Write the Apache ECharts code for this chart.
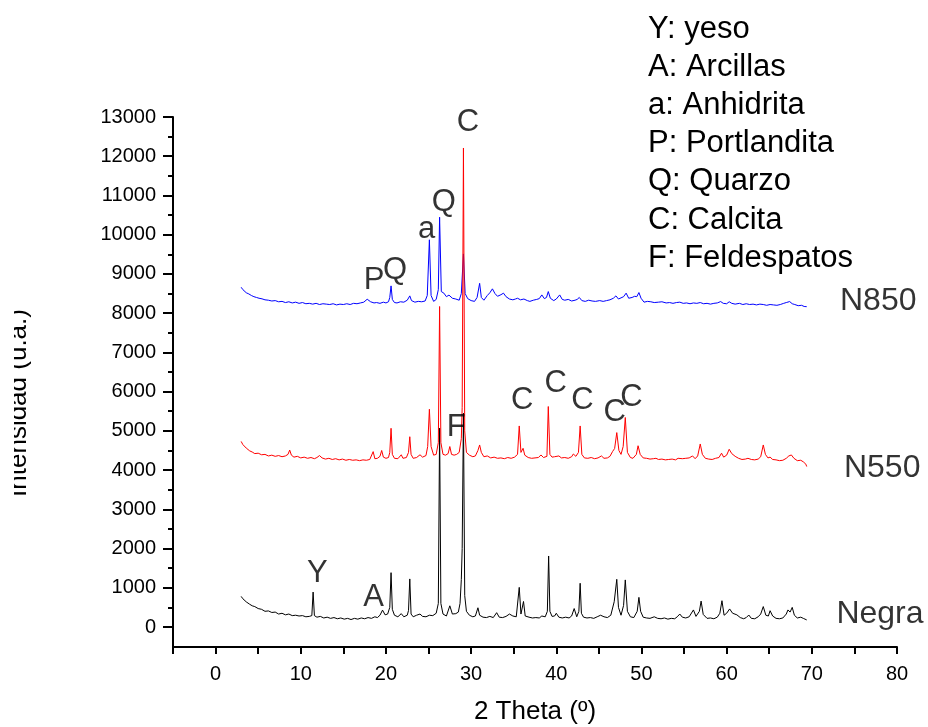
<!DOCTYPE html>
<html>
<head>
<meta charset="utf-8">
<script src="https://cdn.jsdelivr.net/npm/echarts@6/dist/echarts.min.js"></script>
<style>
html,body{margin:0;padding:0;background:#fff;}
#chart{width:928px;height:727px;}
</style>
</head>
<body>
<div id="chart"></div>
<script>
// ---- tick definitions ----
const xTickValues = [-5,0,5,10,15,20,25,30,35,40,45,50,55,60,65,70,75,80];
const xLabelValues = [0,10,20,30,40,50,60,70,80];
const yMajorTicks = [0,1000,2000,3000,4000,5000,6000,7000,8000,9000,10000,11000,12000,13000];
const yMinorTicks = [500,1500,2500,3500,4500,5500,6500,7500,8500,9500,10500,11500,12500];

// ---- series data: [2theta, intensity] ----
const negraData = [
[3.0,780],[3.2,720],[3.4,690],[3.6,640],[3.8,610],[4.0,580],[4.3,540],[4.6,520],[5.0,470],[5.4,450],[5.8,400],[6.2,410],[6.6,370],[7.0,380],[7.4,330],[7.8,350],[8.2,310],[8.6,330],[9.0,290],[9.4,300],[9.8,280],[10.2,290],[10.6,260],[11.0,270],[11.3,290],[11.45,890],[11.6,290],[11.9,250],[12.3,270],[12.7,230],[13.1,250],[13.5,220],[13.9,240],[14.3,210],[14.7,230],[15.1,200],[15.5,220],[15.9,190],[16.3,220],[16.7,200],[17.1,230],[17.5,210],[17.9,240],[18.3,220],[18.7,260],[19.0,240],[19.3,300],[19.6,430],[19.9,310],[20.2,330],[20.45,500],[20.6,1385],[20.75,450],[21.0,300],[21.4,260],[21.8,340],[22.1,260],[22.5,300],[22.65,420],[22.8,1225],[22.95,330],[23.2,260],[23.6,300],[24.0,330],[24.3,270],[24.7,260],[25.1,300],[25.5,290],[25.9,350],[26.15,600],[26.3,5070],[26.45,600],[26.7,330],[27.1,280],[27.5,540],[27.8,330],[28.2,340],[28.5,380],[28.7,600],[28.85,1210],[28.95,2000],[29.1,5450],[29.25,800],[29.45,400],[29.8,300],[30.2,260],[30.5,280],[30.8,490],[31.0,300],[31.4,250],[31.8,240],[32.2,270],[32.6,240],[33.0,365],[33.3,250],[33.7,240],[34.1,270],[34.5,330],[34.9,280],[35.3,260],[35.5,300],[35.65,1010],[35.85,330],[36.15,650],[36.35,280],[36.8,250],[37.2,230],[37.6,240],[38.0,230],[38.3,280],[38.7,260],[38.95,400],[39.1,1810],[39.25,400],[39.5,270],[39.8,280],[40.0,350],[40.3,250],[40.7,230],[41.1,250],[41.5,230],[41.8,280],[42.1,470],[42.4,260],[42.65,400],[42.8,1115],[42.95,350],[43.2,250],[43.6,230],[44.0,240],[44.4,220],[44.8,260],[45.2,300],[45.4,350],[45.6,260],[46.0,240],[46.4,300],[46.8,645],[47.1,1215],[47.3,500],[47.6,300],[47.9,550],[48.1,1200],[48.35,400],[48.7,260],[49.1,240],[49.5,400],[49.7,755],[49.9,400],[50.2,250],[50.6,230],[51.0,220],[51.5,260],[51.9,220],[52.3,210],[52.7,230],[53.1,200],[53.5,220],[53.9,210],[54.2,260],[54.5,330],[54.8,250],[55.2,230],[55.6,260],[56.1,435],[56.4,270],[56.8,400],[57.0,660],[57.25,320],[57.7,220],[58.1,230],[58.5,210],[58.9,250],[59.2,350],[59.45,670],[59.7,300],[60.0,350],[60.35,460],[60.7,350],[61.2,310],[61.6,240],[62.0,210],[62.3,240],[62.6,305],[62.9,220],[63.3,210],[63.7,260],[64.0,330],[64.3,520],[64.6,300],[64.9,280],[65.1,415],[65.4,280],[65.8,220],[66.2,210],[66.6,230],[67.0,330],[67.2,435],[67.45,380],[67.7,500],[67.95,300],[68.3,230],[68.7,250],[69.0,220],[69.4,180]
];
const n850Data = [
[3.0,8660],[3.2,8600],[3.4,8560],[3.6,8520],[3.9,8490],[4.2,8450],[4.5,8420],[4.8,8400],[5.1,8380],[5.45,8365],[5.8,8340],[6.2,8330],[6.6,8310],[7.0,8320],[7.4,8290],[7.8,8300],[8.2,8270],[8.6,8290],[9.0,8260],[9.4,8280],[9.8,8250],[10.2,8270],[10.6,8240],[11.0,8250],[11.4,8230],[11.8,8250],[12.2,8220],[12.6,8240],[13.0,8230],[13.4,8220],[13.8,8240],[14.2,8210],[14.6,8230],[15.0,8220],[15.4,8240],[15.8,8220],[16.2,8250],[16.6,8240],[17.0,8260],[17.4,8280],[17.8,8355],[18.2,8290],[18.6,8260],[18.9,8270],[19.3,8250],[19.7,8280],[20.0,8260],[20.3,8290],[20.45,8400],[20.6,8695],[20.75,8350],[21.0,8270],[21.3,8260],[21.7,8290],[22.1,8280],[22.5,8330],[22.8,8440],[23.0,8320],[23.4,8280],[23.8,8300],[24.2,8290],[24.6,8310],[24.85,8450],[25.1,9870],[25.3,8450],[25.6,8300],[25.9,8350],[26.15,8600],[26.3,10445],[26.5,8550],[26.8,8510],[27.1,8420],[27.4,8460],[27.8,8380],[28.2,8360],[28.6,8330],[28.85,8500],[29.1,9510],[29.3,8500],[29.6,8370],[30.0,8320],[30.4,8300],[30.7,8400],[31.0,8760],[31.2,8400],[31.5,8330],[31.9,8450],[32.2,8520],[32.5,8620],[32.8,8500],[33.1,8430],[33.5,8470],[33.8,8510],[34.1,8420],[34.5,8360],[34.9,8340],[35.2,8360],[35.45,8380],[35.8,8340],[36.2,8360],[36.6,8320],[36.9,8300],[37.3,8330],[37.7,8350],[38.0,8370],[38.3,8465],[38.6,8370],[38.85,8400],[39.06,8550],[39.3,8380],[39.7,8320],[40.0,8360],[40.4,8465],[40.7,8350],[41.0,8330],[41.4,8350],[41.8,8310],[42.2,8330],[42.45,8350],[42.7,8400],[43.0,8320],[43.4,8300],[43.8,8330],[44.2,8310],[44.6,8300],[45.1,8320],[45.5,8300],[45.9,8320],[46.3,8340],[46.7,8380],[47.0,8440],[47.3,8360],[47.6,8390],[47.9,8420],[48.2,8510],[48.5,8380],[48.9,8400],[49.2,8430],[49.45,8420],[49.7,8525],[49.95,8380],[50.3,8280],[50.7,8300],[51.1,8290],[51.5,8270],[51.7,8310],[52.0,8280],[52.4,8290],[52.9,8260],[53.3,8270],[53.7,8250],[54.1,8270],[54.5,8280],[54.9,8250],[55.3,8260],[55.7,8240],[56.1,8260],[56.5,8250],[56.9,8270],[57.3,8240],[57.7,8250],[58.1,8230],[58.5,8250],[58.9,8260],[59.3,8295],[59.6,8250],[60.0,8240],[60.3,8290],[60.6,8250],[61.0,8230],[61.5,8250],[61.9,8220],[62.3,8240],[62.7,8220],[63.1,8230],[63.5,8210],[63.9,8230],[64.3,8220],[64.7,8200],[65.1,8220],[65.5,8210],[65.9,8200],[66.3,8220],[66.7,8250],[67.0,8270],[67.4,8295],[67.7,8240],[68.0,8220],[68.4,8190],[68.8,8200],[69.1,8170],[69.4,8165]
];
const n550Data = [
[3.0,4730],[3.2,4650],[3.4,4600],[3.6,4560],[3.8,4520],[4.0,4490],[4.3,4460],[4.6,4420],[5.0,4430],[5.4,4390],[5.8,4400],[6.2,4360],[6.6,4380],[7.0,4350],[7.4,4370],[7.8,4340],[8.2,4360],[8.5,4400],[8.7,4510],[8.9,4380],[9.2,4330],[9.6,4350],[10.0,4310],[10.4,4330],[10.8,4300],[11.2,4320],[11.6,4290],[11.9,4320],[12.2,4370],[12.5,4310],[12.9,4280],[13.3,4300],[13.7,4270],[14.1,4290],[14.5,4260],[14.9,4280],[15.3,4250],[15.7,4270],[16.1,4250],[16.5,4260],[16.9,4240],[17.3,4260],[17.7,4250],[18.1,4270],[18.3,4300],[18.5,4470],[18.7,4290],[19.0,4300],[19.3,4350],[19.5,4500],[19.7,4330],[20.0,4300],[20.3,4320],[20.45,4450],[20.6,5065],[20.75,4400],[21.0,4300],[21.4,4290],[21.8,4390],[22.0,4300],[22.4,4320],[22.65,4450],[22.8,4850],[22.95,4400],[23.2,4300],[23.6,4320],[24.0,4390],[24.3,4330],[24.7,4370],[24.9,4600],[25.1,5550],[25.3,4600],[25.6,4380],[25.9,4400],[26.15,4700],[26.3,8170],[26.45,4700],[26.7,4400],[27.0,4380],[27.3,4420],[27.5,4600],[27.7,4400],[28.0,4380],[28.3,4400],[28.6,4450],[28.85,4800],[28.95,5600],[29.1,12210],[29.25,5000],[29.45,4450],[29.8,4380],[30.2,4340],[30.5,4360],[30.8,4500],[31.0,4640],[31.2,4450],[31.5,4340],[31.9,4360],[32.3,4310],[32.7,4330],[33.1,4300],[33.5,4310],[33.9,4290],[34.3,4320],[34.7,4300],[35.1,4330],[35.45,4400],[35.65,5125],[35.85,4450],[36.1,4555],[36.3,4380],[36.7,4320],[37.1,4300],[37.5,4310],[37.9,4320],[38.2,4385],[38.5,4320],[38.9,4350],[39.06,5620],[39.25,4400],[39.5,4330],[39.8,4340],[40.3,4360],[40.6,4310],[41.0,4320],[41.4,4300],[41.8,4340],[42.0,4410],[42.3,4350],[42.6,4450],[42.8,5125],[43.0,4400],[43.3,4310],[43.7,4300],[44.1,4320],[44.5,4290],[44.9,4310],[45.3,4360],[45.6,4300],[46.0,4310],[46.3,4350],[46.6,4470],[46.85,4550],[47.1,4955],[47.35,4500],[47.6,4400],[47.85,4600],[48.1,5340],[48.35,4450],[48.7,4320],[49.0,4300],[49.4,4400],[49.6,4620],[49.85,4400],[50.2,4310],[50.6,4300],[51.0,4280],[51.4,4290],[51.7,4300],[52.0,4270],[52.4,4280],[52.8,4260],[53.2,4270],[53.6,4280],[54.0,4260],[54.3,4300],[54.5,4330],[54.8,4290],[55.2,4300],[55.6,4310],[56.0,4360],[56.3,4290],[56.6,4360],[56.9,4665],[57.15,4400],[57.5,4300],[57.9,4280],[58.3,4270],[58.7,4300],[59.1,4320],[59.4,4430],[59.65,4330],[60.0,4380],[60.3,4530],[60.6,4420],[61.0,4350],[61.4,4300],[61.8,4270],[62.2,4280],[62.5,4300],[62.9,4270],[63.3,4260],[63.7,4280],[64.0,4340],[64.3,4640],[64.55,4400],[64.85,4310],[65.1,4330],[65.4,4270],[65.8,4260],[66.2,4240],[66.6,4250],[67.0,4300],[67.3,4360],[67.6,4385],[67.9,4300],[68.3,4240],[68.7,4250],[69.0,4210],[69.3,4150],[69.4,4090]
];

// ---- text annotations (data coordinates) ----
const peakLabels = [
[29.62,12873,'C'],[26.78,10834,'Q'],[24.78,10145,'a'],[18.62,8838,'P'],[21.06,9076,'Q'],
[36.0,5779,'C'],[39.92,6204,'C'],[43.06,5779,'C'],[46.86,5481,'C'],[48.82,5863,'C'],
[28.24,5098,'F'],[11.95,1361,'Y'],[18.54,765,'A']
];
const seriesLabels = [[77.8,8300,'N850'],[78.26,4046,'N550'],[78.0,330,'Negra']];
const legendLines = ['Y: yeso','A: Arcillas','a: Anhidrita','P: Portlandita','Q: Quarzo','C: Calcita','F: Feldespatos'];

const FONT = '"Liberation Sans", Arial, Helvetica, sans-serif';
const chart = echarts.init(document.getElementById('chart'), null, {renderer:'canvas'});

const graphics = legendLines.map((t,i)=>({
  type:'text', x:648, y: 29 + i*38.2, silent:true,
  style:{text:t, fontSize:31, fontFamily:FONT, fill:'#000', align:'left', verticalAlign:'middle'}
}));
graphics.push({
  type:'text', x:18.5, y:403, rotation:Math.PI/2, silent:true,
  style:{text:'Intensidad (u.a.)', fontSize:26, fontFamily:FONT, fill:'#000', align:'center', verticalAlign:'middle'}
});
graphics.push({
  type:'rect', shape:{x:0,y:280,width:14,height:240}, silent:true, z:200,
  style:{fill:'#fff'}
});

const plain = v => String(v);

const option = {
  animation:false,
  backgroundColor:'#fff',
  textStyle:{fontFamily:FONT},
  grid:{left:173, right:31, top:117, bottom:80, containLabel:false, outerBoundsMode:'none'},
  xAxis:{
    type:'value', min:-5, max:80,
    name:'2 Theta (º)', nameLocation:'middle', nameGap:52,
    nameTextStyle:{fontSize:26, color:'#000', fontFamily:FONT},
    axisLine:{show:true, onZero:false, lineStyle:{color:'#000', width:2}},
    axisTick:{show:true, customValues:xTickValues, length:7, lineStyle:{color:'#000', width:2}},
    axisLabel:{customValues:xLabelValues, formatter:plain, fontSize:20, color:'#000', margin:17, fontFamily:FONT},
    splitLine:{show:false}
  },
  yAxis:[{
    type:'value', min:-510, max:13000, position:'left',
    axisLine:{show:true, onZero:false, lineStyle:{color:'#000', width:2}},
    axisTick:{show:true, customValues:yMajorTicks, length:10, lineStyle:{color:'#000', width:2}},
    axisLabel:{customValues:yMajorTicks, formatter:plain, fontSize:20, color:'#000', margin:17, fontFamily:FONT},
    splitLine:{show:false}
  },{
    type:'value', min:-510, max:13000, position:'left', offset:0,
    axisLine:{show:false, onZero:false},
    axisTick:{show:true, customValues:yMinorTicks, length:5, lineStyle:{color:'#000', width:2}},
    axisLabel:{show:false},
    splitLine:{show:false}
  }],
  series:[
    {name:'Negra', type:'line', data:negraData, showSymbol:false, symbol:'none', lineStyle:{color:'#000', width:1}, itemStyle:{color:'#000'}, silent:true},
    {name:'N850', type:'line', data:n850Data, showSymbol:false, symbol:'none', lineStyle:{color:'#0000ff', width:1}, itemStyle:{color:'#0000ff'}, silent:true},
    {name:'N550', type:'line', data:n550Data, showSymbol:false, symbol:'none', lineStyle:{color:'#ff0000', width:1}, itemStyle:{color:'#ff0000'}, silent:true},
    {type:'scatter', data:peakLabels, symbolSize:0, silent:true, z:10,
      label:{show:true, position:'inside', formatter:p=>p.data[2], fontSize:31, color:'#000', fontFamily:FONT}},
    {type:'scatter', data:seriesLabels, symbolSize:0, silent:true, z:10,
      label:{show:true, position:'inside', formatter:p=>p.data[2], fontSize:32, color:'#000', fontFamily:FONT}}
  ],
  graphic:graphics
};
chart.setOption(option);
</script>
</body>
</html>
